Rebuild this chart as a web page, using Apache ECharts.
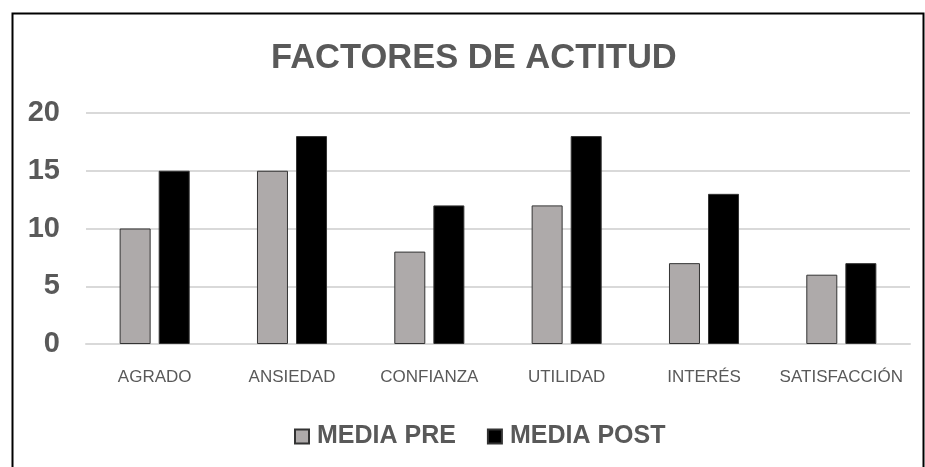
<!DOCTYPE html>
<html>
<head>
<meta charset="utf-8">
<script src="https://cdn.jsdelivr.net/npm/echarts@6/dist/echarts.min.js"></script>
<style>html,body{margin:0;padding:0;background:#fff;}#c{width:925px;height:467px;}</style>
</head>
<body>
<div id="c"></div>
<script>
const categories = ['AGRADO', 'ANSIEDAD', 'CONFIANZA', 'UTILIDAD', 'INTERÉS', 'SATISFACCIÓN'];
const mediaPre = [10, 15, 8, 12, 7, 6];
const mediaPost = [15, 18, 12, 18, 13, 7];
const yTicks = [0, 5, 10, 15, 20];

const chart = echarts.init(document.getElementById('c'), null, {renderer: 'canvas'});
chart.setOption({
  animation: false,
  backgroundColor: '#fff',
  graphic: [{
    type: 'rect', left: 10, top: 11,
    shape: {width: 911, height: 480},
    style: {fill: 'none', stroke: '#000', lineWidth: 2}
  }],
  title: {
    text: 'FACTORES DE ACTITUD',
    left: 266, top: 36,
    textStyle: {fontFamily: 'Liberation Sans, Arial, sans-serif', fontWeight: 'bold', fontSize: 34.5, color: '#595959'}
  },
  legend: {
    data: ['MEDIA PRE', 'MEDIA POST'],
    left: 289, top: 419,
    icon: 'rect', itemWidth: 14, itemHeight: 14, itemGap: 31,
    textStyle: {fontFamily: 'Liberation Sans, Arial, sans-serif', fontWeight: 'bold', fontSize: 25, color: '#595959', padding: [0, 0, 0, 3]}
  },
  grid: {left: 86, right: 15, top: 113, bottom: 123, containLabel: false},
  xAxis: {
    type: 'category', data: categories,
    axisLine: {lineStyle: {color: '#d9d9d9', width: 2}},
    axisTick: {show: false},
    axisLabel: {margin: 25, fontFamily: 'Liberation Sans, Arial, sans-serif', fontSize: 17, color: '#595959', interval: 0}
  },
  yAxis: {
    type: 'value', min: yTicks[0], max: yTicks[yTicks.length - 1], interval: 5,
    axisLine: {show: false}, axisTick: {show: false},
    splitLine: {lineStyle: {color: '#d9d9d9', width: 2}},
    axisLabel: {margin: 26, fontFamily: 'Liberation Sans, Arial, sans-serif', fontWeight: 'bold', fontSize: 29, color: '#595959'}
  },
  series: [
    {name: 'MEDIA PRE', type: 'bar', data: mediaPre, barWidth: 31, barGap: '26%',
     itemStyle: {color: '#aeaaaa', borderColor: '#333', borderWidth: 1}},
    {name: 'MEDIA POST', type: 'bar', data: mediaPost, barWidth: 31,
     itemStyle: {color: '#000', borderColor: '#333', borderWidth: 1}}
  ]
});
</script>
</body>
</html>
